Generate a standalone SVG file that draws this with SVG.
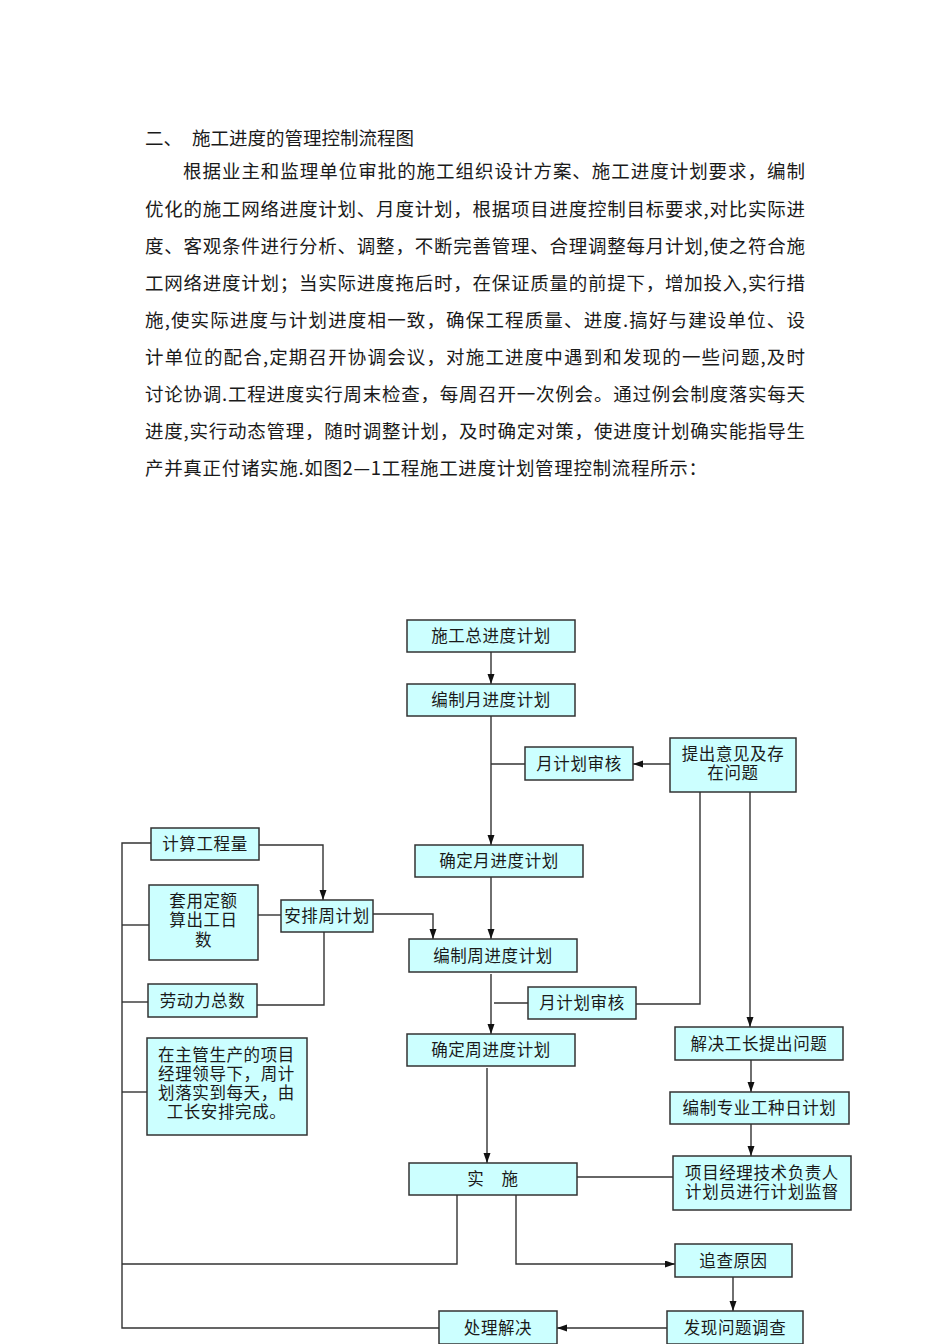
<svg xmlns="http://www.w3.org/2000/svg" width="950" height="1344" viewBox="0 0 950 1344">
<style>
.para{font-family:"Noto Sans CJK SC","Noto Sans",sans-serif;font-size:18.5px;fill:#1a1a1a}
.box{fill:#CCFFFF;stroke:#333;stroke-width:1.5}
.lbl{font-family:"Noto Sans CJK SC","Noto Sans",sans-serif;font-size:16.5px;fill:#1a1a1a;text-anchor:middle;letter-spacing:0.6px}
.ln{fill:none;stroke:#333;stroke-width:1.4}
.ar{fill:none;stroke:#333;stroke-width:1.4;marker-end:url(#ah)}
</style>
<defs>
<marker id="ah" markerUnits="userSpaceOnUse" markerWidth="11" markerHeight="8" refX="10" refY="3.5" orient="auto">
<path d="M0,0 L10,3.5 L0,7 z" fill="#111"/>
</marker>
</defs>
<rect width="950" height="1344" fill="#fff"/>
<g id="text-block">
<text class="para" x="145" y="145">二、</text>
<text class="para" x="192" y="145" textLength="222" lengthAdjust="spacing">施工进度的管理控制流程图</text>
<text class="para" x="183" y="178" textLength="622" lengthAdjust="spacing">根据业主和监理单位审批的施工组织设计方案、施工进度计划要求，编制</text>
<text class="para" x="145" y="216" textLength="660" lengthAdjust="spacing">优化的施工网络进度计划、月度计划，根据项目进度控制目标要求,对比实际进</text>
<text class="para" x="145" y="253" textLength="660" lengthAdjust="spacing">度、客观条件进行分析、调整，不断完善管理、合理调整每月计划,使之符合施</text>
<text class="para" x="145" y="290" textLength="660" lengthAdjust="spacing">工网络进度计划；当实际进度拖后时，在保证质量的前提下，增加投入,实行措</text>
<text class="para" x="145" y="327" textLength="660" lengthAdjust="spacing">施,使实际进度与计划进度相一致，确保工程质量、进度.搞好与建设单位、设</text>
<text class="para" x="145" y="364" textLength="660" lengthAdjust="spacing">计单位的配合,定期召开协调会议，对施工进度中遇到和发现的一些问题,及时</text>
<text class="para" x="145" y="401" textLength="660" lengthAdjust="spacing">讨论协调.工程进度实行周末检查，每周召开一次例会。通过例会制度落实每天</text>
<text class="para" x="145" y="438" textLength="660" lengthAdjust="spacing">进度,实行动态管理，随时调整计划，及时确定对策，使进度计划确实能指导生</text>
<text class="para" x="145" y="475" textLength="562" lengthAdjust="spacing">产并真正付诸实施.如图2—1工程施工进度计划管理控制流程所示：</text>
</g>
<g id="connectors">
<path class="ar" d="M491,652 V684"/>
<path class="ar" d="M491,716 V845"/>
<path class="ln" d="M491,764 H525"/>
<path class="ar" d="M670,764 H633"/>
<path class="ar" d="M491,877 V939"/>
<path class="ar" d="M259,845 H323 V900"/>
<path class="ln" d="M258,915 H281"/>
<path class="ar" d="M373,914 H433 V939"/>
<path class="ln" d="M324,932 V1005 H257"/>
<path class="ar" d="M491,974 V1034"/>
<path class="ln" d="M494,1003 H528"/>
<path class="ln" d="M636,1004 H700 V792"/>
<path class="ar" d="M750,792 V1027"/>
<path class="ar" d="M751,1060 V1092"/>
<path class="ar" d="M751,1124 V1156"/>
<path class="ar" d="M487,1068 V1163"/>
<path class="ln" d="M577,1177 H673"/>
<path class="ln" d="M457,1195 V1264 H122"/>
<path class="ar" d="M516,1195 V1264 H675"/>
<path class="ar" d="M733,1277 V1311"/>
<path class="ar" d="M667,1328 H557"/>
<path class="ln" d="M439,1328 H122 V843 H151"/>
<path class="ln" d="M122,925 H149"/>
<path class="ln" d="M122,1002 H148"/>
<path class="ln" d="M122,1092 H147"/>
</g>
<g id="n-zong"><rect class="box" x="407" y="620" width="168" height="32"/><text class="lbl" x="491" y="642">施工总进度计划</text></g>
<g id="n-bianyue"><rect class="box" x="407" y="684" width="168" height="32"/><text class="lbl" x="491" y="706">编制月进度计划</text></g>
<g id="n-shenhe1"><rect class="box" x="525" y="747" width="108" height="33"/><text class="lbl" x="579" y="770">月计划审核</text></g>
<g id="n-tichu"><rect class="box" x="670" y="738" width="126" height="54"/><text class="lbl" x="733" y="760">提出意见及存</text><text class="lbl" x="733" y="779">在问题</text></g>
<g id="n-queyue"><rect class="box" x="415" y="845" width="168" height="32"/><text class="lbl" x="499" y="867">确定月进度计划</text></g>
<g id="n-jisuan"><rect class="box" x="151" y="828" width="108" height="32"/><text class="lbl" x="205" y="850">计算工程量</text></g>
<g id="n-taoyong"><rect class="box" x="149" y="885" width="109" height="75"/><text class="lbl" x="203.5" y="907">套用定额</text><text class="lbl" x="203.5" y="926">算出工日</text><text class="lbl" x="203.5" y="946">数</text></g>
<g id="n-anpai"><rect class="box" x="281" y="900" width="92" height="32"/><text class="lbl" x="327" y="922">安排周计划</text></g>
<g id="n-bianzhou"><rect class="box" x="409" y="939" width="168" height="33"/><text class="lbl" x="493" y="962">编制周进度计划</text></g>
<g id="n-laodong"><rect class="box" x="148" y="984" width="109" height="33"/><text class="lbl" x="202.5" y="1007">劳动力总数</text></g>
<g id="n-shenhe2"><rect class="box" x="528" y="987" width="108" height="32"/><text class="lbl" x="582" y="1009">月计划审核</text></g>
<g id="n-zhuguan"><rect class="box" x="147" y="1038" width="160" height="97"/><text class="lbl" x="226.5" y="1061">在主管生产的项目</text><text class="lbl" x="226.5" y="1080">经理领导下，周计</text><text class="lbl" x="226.5" y="1099">划落实到每天，由</text><text class="lbl" x="226.5" y="1118">工长安排完成。</text></g>
<g id="n-jiejue"><rect class="box" x="675" y="1027" width="168" height="33"/><text class="lbl" x="759" y="1050">解决工长提出问题</text></g>
<g id="n-quezhou"><rect class="box" x="407" y="1034" width="168" height="32"/><text class="lbl" x="491" y="1056">确定周进度计划</text></g>
<g id="n-zhuanye"><rect class="box" x="670" y="1092" width="179" height="32"/><text class="lbl" x="759.5" y="1114">编制专业工种日计划</text></g>
<g id="n-shishi"><rect class="box" x="409" y="1163" width="168" height="32"/><text class="lbl" x="493" y="1185">实　施</text></g>
<g id="n-xiangmu"><rect class="box" x="673" y="1156" width="178" height="54"/><text class="lbl" x="762" y="1179">项目经理技术负责人</text><text class="lbl" x="762" y="1198">计划员进行计划监督</text></g>
<g id="n-zhuicha"><rect class="box" x="675" y="1244" width="117" height="33"/><text class="lbl" x="733.5" y="1267">追查原因</text></g>
<g id="n-chuli"><rect class="box" x="439" y="1311" width="118" height="33"/><text class="lbl" x="498" y="1334">处理解决</text></g>
<g id="n-faxian"><rect class="box" x="667" y="1311" width="136" height="33"/><text class="lbl" x="735" y="1334">发现问题调查</text></g>
</svg>
